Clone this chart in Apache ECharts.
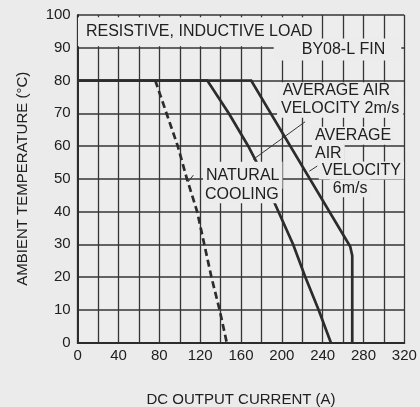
<!DOCTYPE html>
<html><head><meta charset="utf-8">
<script src="https://cdn.jsdelivr.net/npm/echarts@6/dist/echarts.min.js"></script>
<style>html,body{margin:0;padding:0;background:#ebebeb}#c{width:420px;height:407px}</style>
</head><body><div id="c"></div>
<script>
// ---- data ----
const xMin = 0, xMax = 320, xStep = 20, xLabelStep = 40;
const yMin = 0, yMax = 100, yStep = 10;
const xAxisTitle = 'DC OUTPUT CURRENT (A)';
const yAxisTitle = 'AMBIENT TEMPERATURE (°C)';
// natural cooling (dashed)
const naturalCooling = [[76,80],[87,70],[98,60],[107,50],[117,40],[124,30],[131,20],[139,10],[146,0]];
// average air velocity 2 m/s
const air2ms = [[0,80],[127,80],[148,70],[167,60],[177,54],[193,42.5],[211,30],[223,20],[236,10],[248,0]];
// average air velocity 6 m/s
const air6ms = [[0,80],[170,80],[267,29.3],[269,26.5],[269,0]];
// annotations: text lines anchored (left, middle) at data coordinates
const notes = [
  ['RESISTIVE, INDUCTIVE LOAD', 8.1, 94.9, [7,3,6,8]],
  ['BY08-L FIN', 219.5, 89.5, [3,16,3,28]],
  ['AVERAGE AIR', 200.9, 76.9, [1,6,0,4]],
  ['VELOCITY 2m/s', 199.2, 71.5, [1,4,2,4]],
  ['AVERAGE', 232.5, 63.1, [1,3,1,3]],
  ['AIR', 232.5, 57.8, [1,3,1,3]],
  ['VELOCITY', 239.1, 52.5, [1,3,1,3]],
  ['6m/s', 249.9, 47.1, [1,3,1,3]],
  ['NATURAL', 125.7, 51.1, [10,3,1,3]],
  ['COOLING', 124.7, 45.3, [1,3,1,3]]
];
// leader lines (data coordinates)
const leaders = [
  [[222.8,67.4],[172,55.9]],
  [[113.3,51.1],[108.4,49.1]],
  [[234.8,53.9],[227,52.3]]
];

const FONT = "'Liberation Sans', Arial, Helvetica, sans-serif";
const INK = '#202020';
const BG = '#ebebeb';
const chart = echarts.init(document.getElementById('c'), null, {renderer:'canvas'});
const lineSeries = (name, data, type) => ({
  name, type:'line', data, symbol:'none', z:5,
  lineStyle:{color:'#2c2c2c', width:2.7, type:type, cap:'butt', join:'miter'},
  animation:false
});
chart.setOption({
  backgroundColor: BG,
  animation:false,
  grid:{left:77.7, right:15.7, top:15, bottom:64.5, show:true, backgroundColor:'#ededed', borderWidth:0,
    containLabel:false, outerBoundsMode:'none'},
  xAxis:{
    type:'value', min:xMin, max:xMax, interval:xStep,
    name:xAxisTitle, nameLocation:'middle', nameGap:50,
    nameTextStyle:{fontFamily:FONT, fontSize:15, color:INK},
    axisLine:{show:true, lineStyle:{color:'#2c2c2c', width:2}},
    axisTick:{show:false},
    axisLabel:{fontFamily:FONT, fontSize:15, color:INK, margin:6,
      formatter:v => (v % xLabelStep === 0 ? String(v) : '')},
    splitLine:{show:true, lineStyle:{color:'#353535', width:1.3}}
  },
  yAxis:{
    type:'value', min:yMin, max:yMax, interval:yStep,
    name:yAxisTitle, nameLocation:'middle', nameGap:47,
    nameTextStyle:{fontFamily:FONT, fontSize:15, color:INK},
    axisLine:{show:true, lineStyle:{color:'#2c2c2c', width:2}},
    axisTick:{show:false},
    axisLabel:{fontFamily:FONT, fontSize:15, color:INK, margin:7},
    splitLine:{show:true, lineStyle:{color:'#353535', width:1.7}}
  },
  series:[
    lineSeries('Natural cooling', naturalCooling, [7,4]),
    lineSeries('Average air velocity 2m/s', air2ms, 'solid'),
    lineSeries('Average air velocity 6m/s', air6ms, 'solid')
  ]
});
const px = p => chart.convertToPixel({gridIndex:0}, p);
const graphics = [];
notes.forEach(([t,x,y,pad]) => {
  const p = px([x,y]);
  graphics.push({type:'text', x:p[0]-pad[3], y:p[1], z:50,
    style:{text:t, font:'16px '+FONT, fill:INK, verticalAlign:'middle', align:'left',
      backgroundColor:'#ececec', padding:pad}});
});
leaders.forEach(([a,b]) => {
  const pa = px(a), pb = px(b);
  graphics.push({type:'line', z:60, shape:{x1:pa[0],y1:pa[1],x2:pb[0],y2:pb[1]},
    style:{stroke:'#353535', lineWidth:1}});
});
chart.setOption({graphic:graphics});
</script></body></html>
